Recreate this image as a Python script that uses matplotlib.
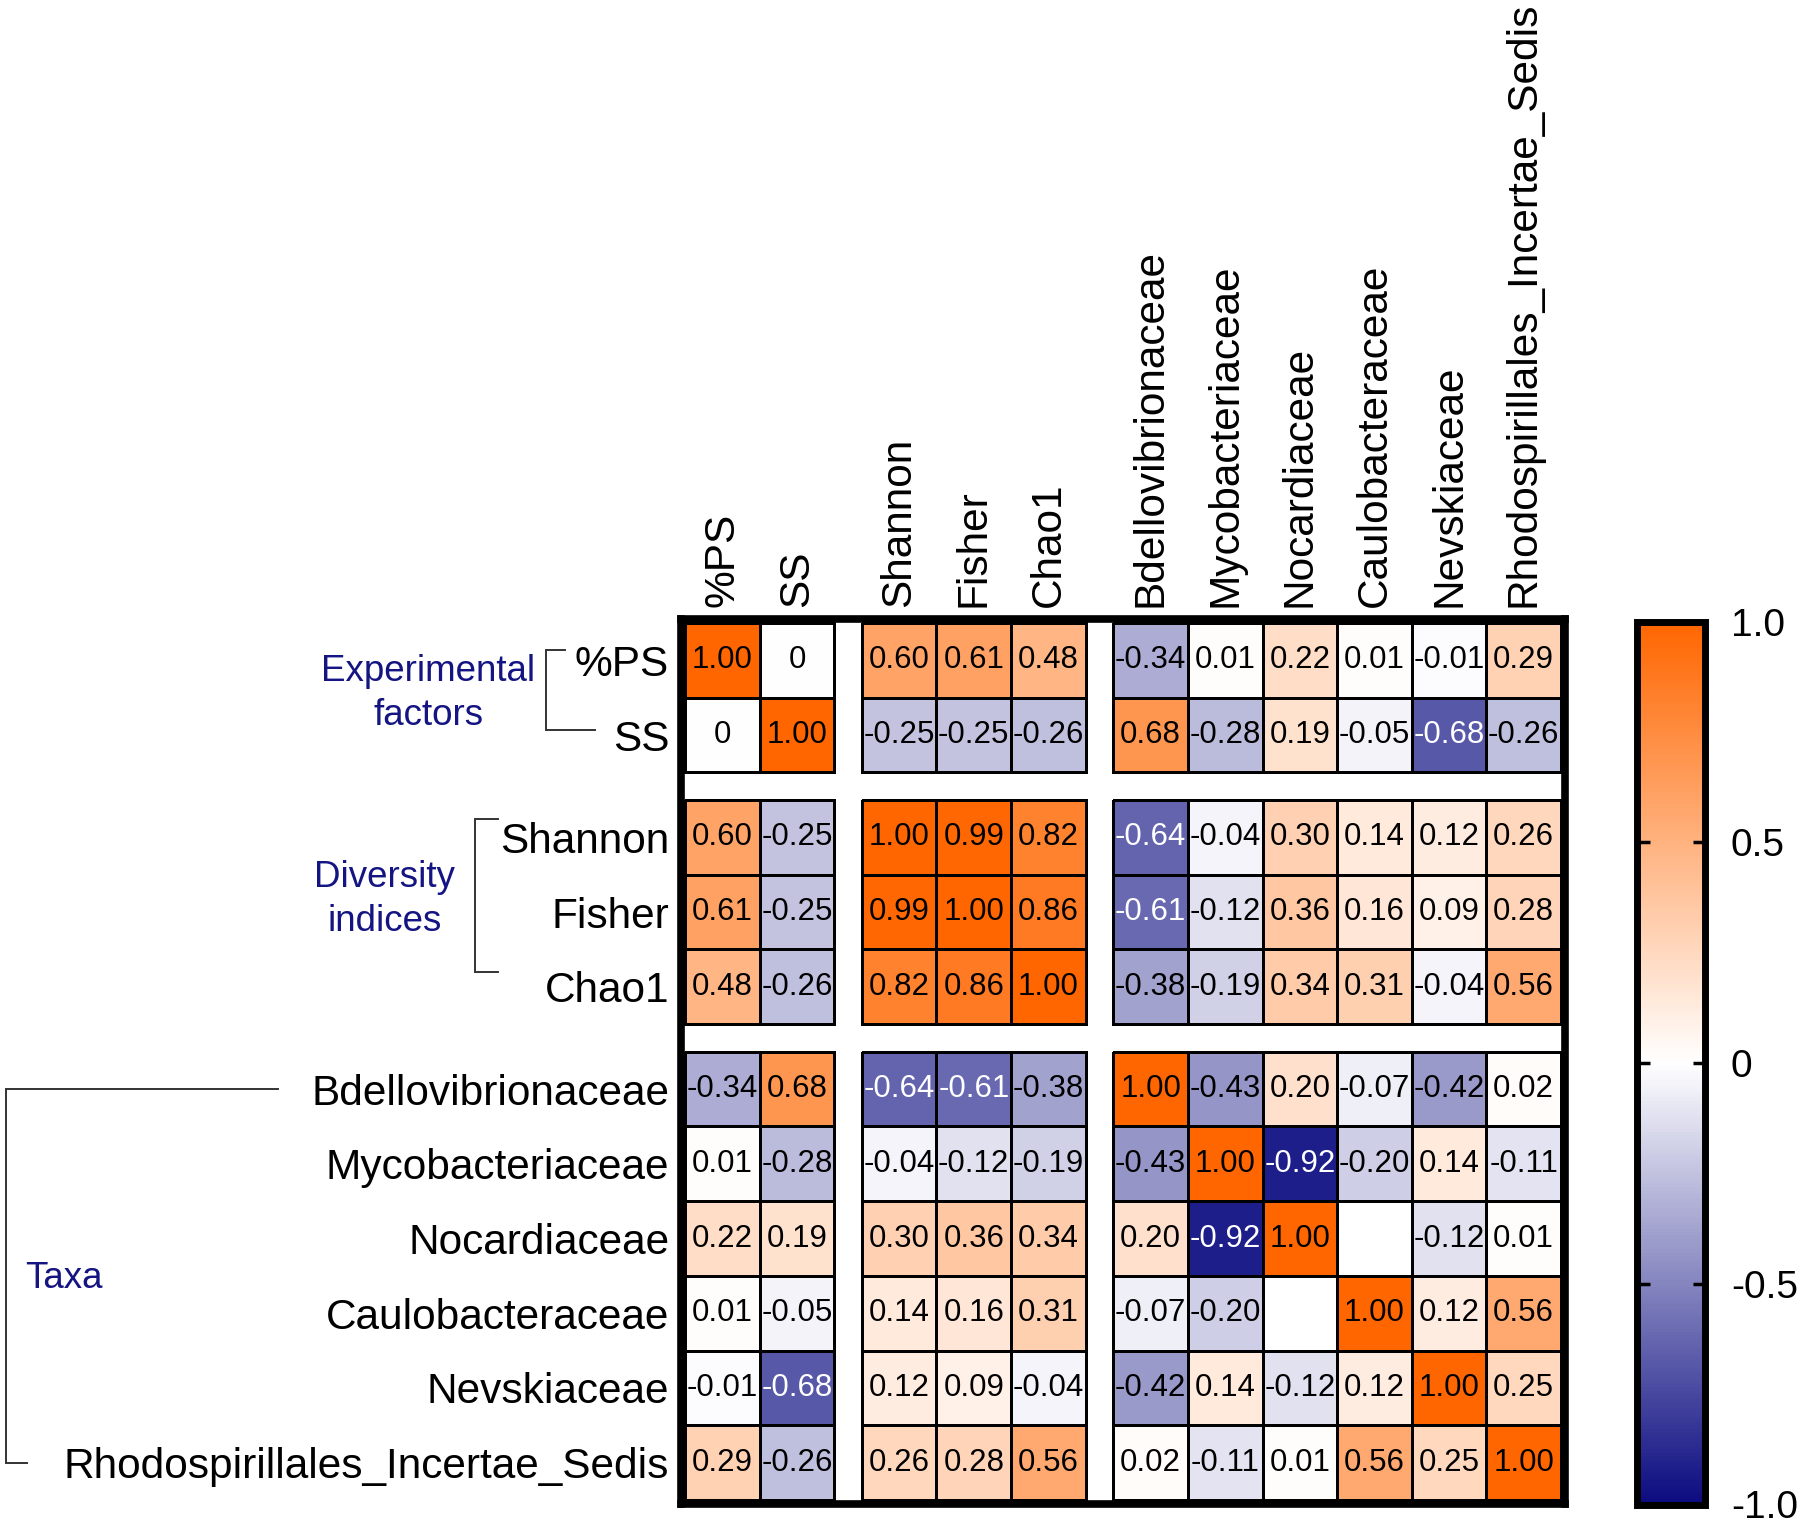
import numpy as np
import matplotlib.pyplot as plt
from matplotlib.colors import LinearSegmentedColormap

plt.rcParams['font.family'] = ['Liberation Sans', 'DejaVu Sans']

# ---- data ----
labels = ["%PS", "SS", "Shannon", "Fisher", "Chao1",
          "Bdellovibrionaceae", "Mycobacteriaceae", "Nocardiaceae",
          "Caulobacteraceae", "Nevskiaceae", "Rhodospirillales_Incertae_Sedis"]
group_sizes = [2, 3, 6]
group_names = ["Experimental\nfactors", "Diversity\nindices", "Taxa"]

# None = empty cell
corr = [
    [1.00, 0, 0.60, 0.61, 0.48, -0.34, 0.01, 0.22, 0.01, -0.01, 0.29],
    [0, 1.00, -0.25, -0.25, -0.26, 0.68, -0.28, 0.19, -0.05, -0.68, -0.26],
    [0.60, -0.25, 1.00, 0.99, 0.82, -0.64, -0.04, 0.30, 0.14, 0.12, 0.26],
    [0.61, -0.25, 0.99, 1.00, 0.86, -0.61, -0.12, 0.36, 0.16, 0.09, 0.28],
    [0.48, -0.26, 0.82, 0.86, 1.00, -0.38, -0.19, 0.34, 0.31, -0.04, 0.56],
    [-0.34, 0.68, -0.64, -0.61, -0.38, 1.00, -0.43, 0.20, -0.07, -0.42, 0.02],
    [0.01, -0.28, -0.04, -0.12, -0.19, -0.43, 1.00, -0.92, -0.20, 0.14, -0.11],
    [0.22, 0.19, 0.30, 0.36, 0.34, 0.20, -0.92, 1.00, None, -0.12, 0.01],
    [0.01, -0.05, 0.14, 0.16, 0.31, -0.07, -0.20, None, 1.00, 0.12, 0.56],
    [-0.01, -0.68, 0.12, 0.09, -0.04, -0.42, 0.14, -0.12, 0.12, 1.00, 0.25],
    [0.29, -0.26, 0.26, 0.28, 0.56, 0.02, -0.11, 0.01, 0.56, 0.25, 1.00],
]
cbar_ticks = [-1.0, -0.5, 0, 0.5, 1.0]
cbar_ticklabels = ["-1.0", "-0.5", "0", "0.5", "1.0"]

data = np.array([[np.nan if v is None else v for v in row] for row in corr], dtype=float)

cmap = LinearSegmentedColormap.from_list("bwo", ["#0b0b80", "#ffffff", "#ff6600"])
cmap.set_bad("white")
navy = "#141482"

# ---- layout (cell units) ----
gap = 0.37
starts = []
p = 0
for n in group_sizes:
    starts.append(p)
    p += n + gap
total = p - gap
offs = np.cumsum([0] + group_sizes)
centers = [starts[b] + k + 0.5 for b, n in enumerate(group_sizes) for k in range(n)]

fig = plt.figure(figsize=(18.07, 15.29), dpi=100)
ax = fig.add_axes([681 / 1807, 1 - 1504 / 1529, 884 / 1807, 885 / 1529])

for bi in range(3):
    for bj in range(3):
        sub = data[offs[bi]:offs[bi + 1], offs[bj]:offs[bj + 1]]
        xe = starts[bj] + np.arange(group_sizes[bj] + 1)
        ye = starts[bi] + np.arange(group_sizes[bi] + 1)
        mesh = ax.pcolormesh(xe, ye, np.ma.masked_invalid(sub), cmap=cmap,
                             vmin=-1, vmax=1, edgecolors="black", linewidth=2)

for i in range(len(labels)):
    for j in range(len(labels)):
        v = data[i, j]
        if np.isnan(v):
            continue
        txt = "0" if v == 0 else f"{v:.2f}"
        ax.text(centers[j], centers[i], txt, ha="center", va="center",
                fontsize=22.5, color="white" if v < -0.55 else "black")

pad = 0.054
ax.set_xlim(-pad, total + pad)
ax.set_ylim(total + pad, -pad)

ax.set_xticks(centers)
ax.set_xticklabels(labels, rotation=90, fontsize=30.5)
ax.xaxis.tick_top()
ax.set_yticks(centers)
ax.set_yticklabels(labels, fontsize=30.5)
ax.tick_params(length=0, pad=8.5)
for s in ax.spines.values():
    s.set_linewidth(5.5)

# ---- group brackets and names ----
def bracket(xv, y0, y1, x_top, x_bot):
    ax.plot([x_top, xv, xv, x_bot], [y0, y0, y1, y1], color="#333333",
            lw=1.4, clip_on=False, solid_joinstyle="miter")

bracket(-1.86, centers[0] - 0.14, centers[1] - 0.07, -1.61, -1.20)
bracket(-2.82, centers[2] - 0.24, centers[4] - 0.20, -2.50, -2.50)
bracket(-9.10, centers[5], centers[10], -5.45, -8.82)

ax.text(-3.44, 0.94, group_names[0], ha="center", va="center", color=navy,
        fontsize=26.5, linespacing=1.32, clip_on=False)
ax.text(-4.03, 3.70, group_names[1], ha="center", va="center", color=navy,
        fontsize=26.5, linespacing=1.32, clip_on=False)
ax.text(-8.85, 8.78, group_names[2], ha="left", va="center", color=navy,
        fontsize=26.5, clip_on=False)

# ---- colorbar ----
cax = fig.add_axes([1636.5 / 1807, 1 - 1504.5 / 1529, 68 / 1807, 883 / 1529])
cbar = fig.colorbar(mesh, cax=cax, ticks=cbar_ticks)
cbar.ax.set_yticklabels(cbar_ticklabels)
cbar.outline.set_linewidth(5)
cax.tick_params(direction="in", left=True, right=True, length=9, width=2.5,
                labelsize=28, pad=19)

plt.savefig("out.png", dpi=100)
